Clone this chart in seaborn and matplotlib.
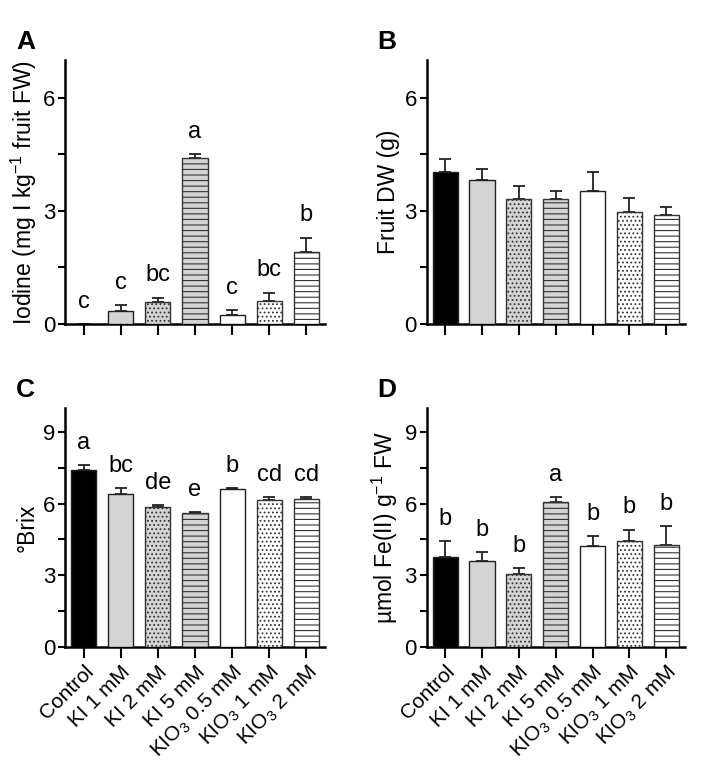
import matplotlib
matplotlib.use("Agg")
import matplotlib.pyplot as plt
from matplotlib.ticker import MultipleLocator
import seaborn as sns
import numpy as np

# treatments
labels = ["Control", "KI 1 mM", "KI 2 mM", "KI 5 mM",
          "KIO$_3$ 0.5 mM", "KIO$_3$ 1 mM", "KIO$_3$ 2 mM"]

# A: iodine content
iodine_mean = [0.0, 0.35, 0.58, 4.41, 0.23, 0.62, 1.90]
iodine_sem = [0.0, 0.15, 0.12, 0.10, 0.14, 0.21, 0.39]
iodine_letters = ["c", "c", "bc", "a", "c", "bc", "b"]

# B: fruit dry weight
dw_mean = [4.04, 3.81, 3.31, 3.31, 3.54, 2.97, 2.89]
dw_sem = [0.33, 0.31, 0.35, 0.23, 0.49, 0.37, 0.22]

# C: Brix
brix_mean = [7.43, 6.41, 5.86, 5.63, 6.62, 6.14, 6.20]
brix_sem = [0.20, 0.24, 0.09, 0.02, 0.02, 0.12, 0.07]
brix_letters = ["a", "bc", "de", "e", "b", "cd", "cd"]

# D: FRAP
frap_mean = [3.77, 3.61, 3.03, 6.08, 4.21, 4.45, 4.25]
frap_sem = [0.65, 0.36, 0.28, 0.19, 0.42, 0.46, 0.80]
frap_letters = ["b", "b", "b", "a", "b", "b", "b"]

colors = ["black", "#d4d4d4", "#d4d4d4", "#d4d4d4", "white", "white", "white"]
hatches = [None, None, "....", "---", None, "....", "---"]

sns.set_style("ticks")
plt.rcParams["font.family"] = ["Liberation Sans", "DejaVu Sans"]
plt.rcParams["mathtext.fontset"] = "custom"
plt.rcParams["mathtext.rm"] = "Liberation Sans"
plt.rcParams["mathtext.it"] = "Liberation Sans:italic"
plt.rcParams["hatch.linewidth"] = 0.8
plt.rcParams["text.color"] = "black"
plt.rcParams["axes.labelcolor"] = "black"
plt.rcParams["xtick.color"] = "black"
plt.rcParams["ytick.color"] = "black"
plt.rcParams["axes.edgecolor"] = "black"

fig = plt.figure(figsize=(7.01, 7.69), dpi=100)
pos = {"A": [0.0927, 0.5787, 0.371, 0.343],
       "B": [0.6087, 0.5787, 0.368, 0.343],
       "C": [0.0927, 0.159, 0.371, 0.310],
       "D": [0.6087, 0.159, 0.368, 0.310]}


def panel(key, mean, sem, ylabel, ymax, letters=None, xlabels=False):
    ax = fig.add_axes(pos[key])
    sns.barplot(x=labels, y=mean, hue=labels, palette=colors, legend=False,
                width=0.68, edgecolor="#222222", linewidth=1.0, ax=ax, zorder=3)
    for p, h in zip(ax.patches, hatches):
        if h:
            p.set_hatch(h)
            p.set_edgecolor("#333333")
    xs = np.arange(len(labels))
    ax.errorbar(xs, mean, yerr=[np.zeros(len(sem)), sem], fmt="none",
                ecolor="#222222", elinewidth=1.3, capsize=4.5, capthick=1.3, zorder=2)
    if letters:
        for x, m, s, t in zip(xs, mean, sem, letters):
            ax.annotate(t, (x, m + s), xytext=(0, 16), textcoords="offset points",
                        ha="center", va="center", fontsize=17)
    ax.set_xlim(-0.5, 6.5)
    ax.set_ylim(0, ymax)
    step = 3
    ax.yaxis.set_major_locator(MultipleLocator(step))
    ax.yaxis.set_minor_locator(MultipleLocator(step / 2))
    sns.despine(ax=ax)
    for s in ["left", "bottom"]:
        ax.spines[s].set_linewidth(1.8)
    ax.tick_params(axis="y", which="both", length=5, width=1.5, labelsize=16, pad=2)
    ax.tick_params(axis="x", length=8, width=1.5, labelsize=15, pad=3)
    ax.set_xticks(xs)
    if xlabels:
        ax.set_xticklabels(labels, rotation=45, ha="right", rotation_mode="anchor")
    else:
        ax.set_xticklabels([])
    ax.set_ylabel(ylabel, fontsize=16.5, labelpad=3)
    ax.set_xlabel("")
    fig.text(pos[key][0] - 0.07, pos[key][1] + pos[key][3] + 0.008, key,
             fontsize=19, fontweight="bold", va="bottom")
    return ax


panel("A", iodine_mean, iodine_sem, "Iodine (mg I kg$^{-1}$ fruit FW)", 7, iodine_letters)
panel("B", dw_mean, dw_sem, "Fruit DW (g)", 7)
panel("C", brix_mean, brix_sem, "°Brix", 10, brix_letters, xlabels=True)
panel("D", frap_mean, frap_sem, "µmol Fe(II) g$^{-1}$ FW", 10, frap_letters, xlabels=True)

fig.savefig("out.png", dpi=100)
